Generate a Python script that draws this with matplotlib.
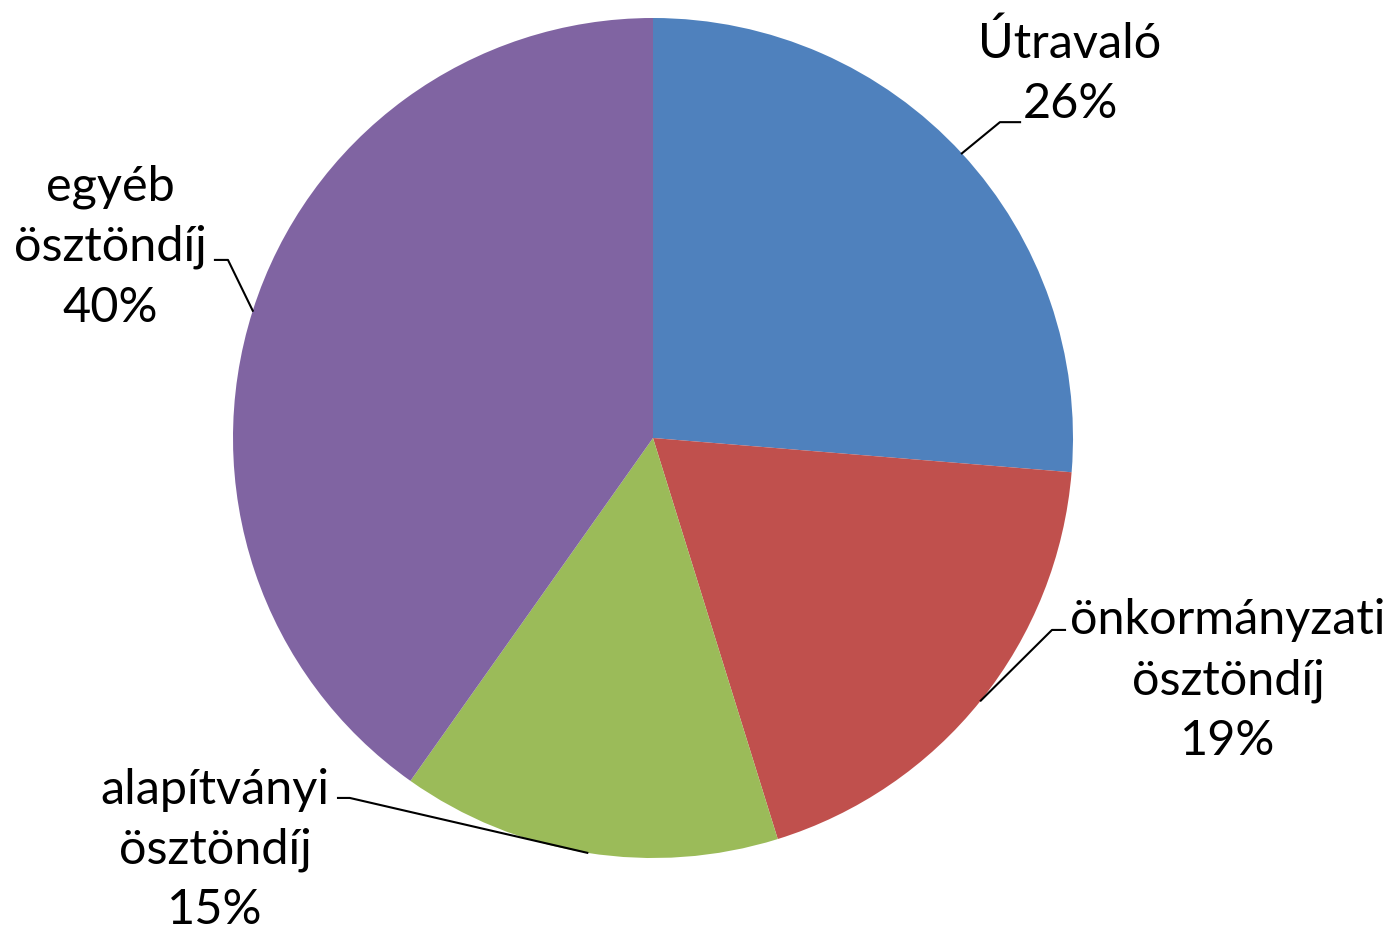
import numpy as np
import matplotlib
matplotlib.use("Agg")
import matplotlib.pyplot as plt

labels = ["Útravaló", "önkormányzati\nösztöndíj", "alapítványi\nösztöndíj", "egyéb\nösztöndíj"]
values = [26.3, 18.9, 14.6, 40.2]
colors = ["#4F81BD", "#C0504D", "#9BBB59", "#8064A2"]

# label placement (data units, radius = 1)
text_pos = [(0.993, 0.868), (1.369, -0.577), (-1.043, -0.981), (-1.293, 0.455)]
elbows = [(0.826, 0.752), (0.950, -0.457), (-0.722, -0.857), (-1.012, 0.424)]
ends = [(0.874, 0.752), (0.981, -0.457), (-0.750, -0.857), (-1.043, 0.424)]

plt.rcParams['font.family'] = ['Lato', 'DejaVu Sans']

fig = plt.figure(figsize=(13.92, 9.35), dpi=100)
ax = fig.add_axes([0, 0, 1, 1])
wedges, _ = ax.pie(values, colors=colors, startangle=90, counterclock=False,
                   radius=1, center=(0, 0), wedgeprops=dict(linewidth=0))
ax.set_xlim(-653 / 420, (1392 - 653) / 420)
ax.set_ylim(-497 / 420, 438 / 420)
ax.set_aspect('equal')
ax.axis('off')

total = sum(values)
for w, lab, v, tp, el, en in zip(wedges, labels, values, text_pos, elbows, ends):
    mid = np.deg2rad((w.theta1 + w.theta2) / 2)
    x0, y0 = np.cos(mid), np.sin(mid)
    ax.plot([x0, el[0], en[0]], [y0, el[1], en[1]], color='black', lw=1.5)
    ax.text(tp[0], tp[1], f"{lab}\n{round(v / total * 100)}%", ha='center', va='center',
            fontsize=35, linespacing=1.45)

fig.savefig("out.png", dpi=100)
